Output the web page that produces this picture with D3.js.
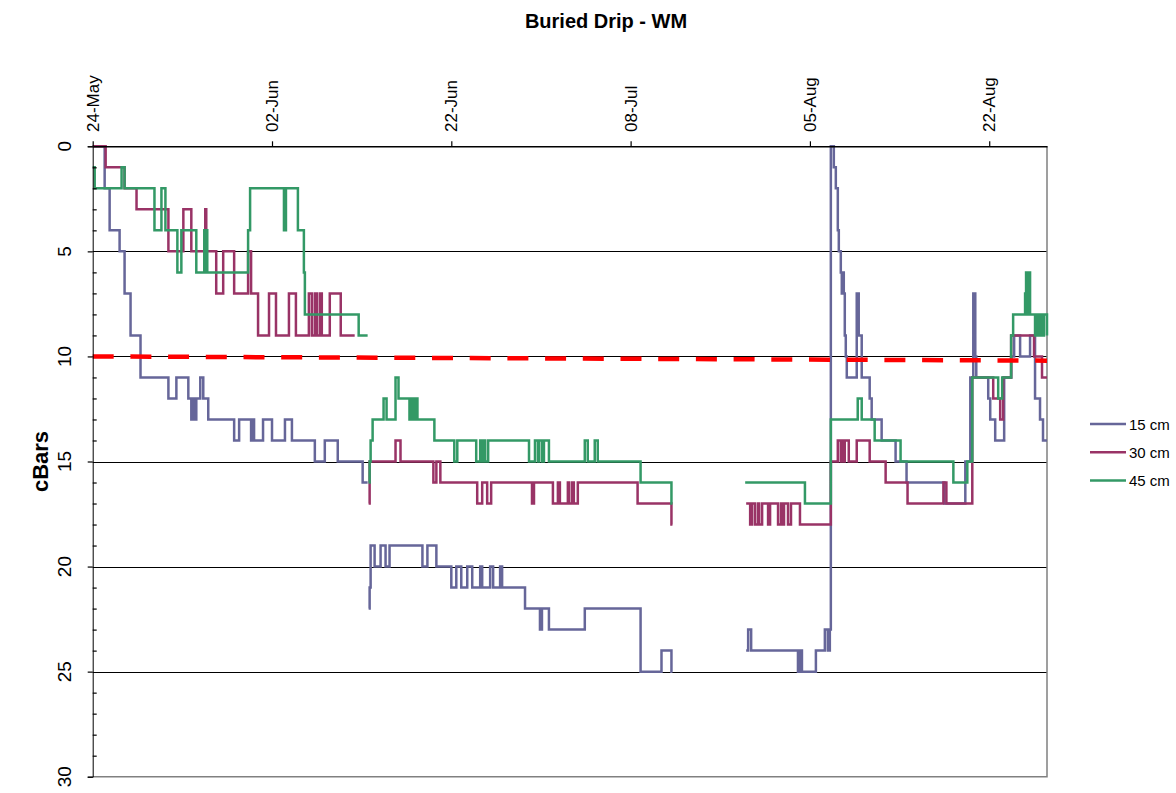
<!DOCTYPE html>
<html>
<head>
<meta charset="utf-8">
<script src="https://cdn.jsdelivr.net/npm/d3@7"></script>
<style>
  body { margin: 0; background: #fff; }
  svg { font-family: "Liberation Sans", Arial, sans-serif; }
</style>
</head>
<body>
<div id="chart"></div>
<script>
// readings index (category axis), a label every 180 readings
var tickIdx = [0, 180, 360, 540, 720, 900];
var tickLabels = ["24-May", "02-Jun", "22-Jun", "08-Jul", "05-Aug", "22-Aug"];
var yTicks = [0, 5, 10, 15, 20, 25, 30];

// [reading index, cBars] where the value changes; null = no data
var cm15 = [
  [0,0],[12,2],[17,4],[27,5],[32,7],[38,9],[48,11],[76,12],[84,11],[96,12],[99,13],[101,12],[103,13],[104,12],
  [108,11],[111,12],[116,13],[142,14],[147,13],[159,14],[161,13],[162,14],[171,13],[180,14],[193,13],[200,14],
  [223,15],[233,14],[246,15],[271,16],[276,16],[276.5,null],
  [277,22],[278,21],[279,19],[283,20],[289,19],[294,20],[298,19],[331,20],[336,19],[345,20],[360,21],[365,20],
  [370,21],[376,20],[381,21],[389,20],[391,21],[399,20],[402,21],[409,20],[411,21],[434,22],[449,23],[451,22],
  [458,23],[494,22],[550,25],[571,24],[581,25],[582,25],[600,null],
  [656,24],[658,23],[661,24],[708,25],[710,24],[712,25],[726,24],[735,23],[738,24],[740,23],[741,0],[744,1],
  [746,2],[748,4],[749,5],[751,6],[752,7],[753,6],[754,7],[755,9],[756,10],[757,11],[767,7],[769,9],[772,11],
  [780,12],[782,13],[792,14],[806,15],[817,16],[855,17],[876,15],[881,11],[884,7],[886,10],[887,11],[899,12],
  [901,13],[906,14],[915,11],[922,10],[925,9],[931,10],[941,9],[946,12],[951,13],[954,14],[958,14]
];
var cm30 = [
  [0,0],[13,1],[32,2],[44,3],[76,5],[91,3],[99,5],[113,3],[114,5],[124,7],[131,5],[142,7],[156,5],[159,7],
  [166,9],[177,7],[184,9],[197,7],[204,9],[217,7],[220,9],[223,7],[225,9],[228,7],[230,9],[238,7],[249,9],
  [263,9],[264,null],
  [277,17],[278,15],[304,14],[309,15],[342,16],[345,15],[349,16],[386,17],[391,16],[396,17],[400,16],[441,17],
  [443,16],[462,17],[467,16],[469,17],[477,16],[478,17],[481,16],[483,17],[487,16],[547,17],[581,18],[582,18],
  [600,null],
  [656,17],[660,18],[662,17],[665,18],[668,17],[669,18],[672,17],[678,18],[680,17],[688,18],[691,17],[692,18],
  [694,17],[698,18],[701,17],[710,18],[741,15],[748,14],[751,15],[752,14],[754,15],[755,14],[759,15],[767,14],
  [780,15],[796,16],[818,17],[854,16],[857,17],[883,11],[904,12],[911,13],[914,11],[922,9],[945,10],[953,11],
  [958,11]
];
var cm45 = [
  [0,1],[2,2],[29,1],[32,2],[62,4],[69,2],[73,4],[85,6],[89,4],[104,6],[112,4],[113,6],[114,4],[115,6],
  [156,4],[158,2],[192,4],[194,2],[206,4],[212,6],[213,8],[267,9],[276,9],[276.5,null],
  [277,16],[278,15],[279,14],[281,13],[292,12],[295,13],[304,11],[307,12],[318,13],[320,12],[322,13],[324,12],
  [326,13],[343,14],[363,15],[366,14],[385,15],[389,14],[390,15],[392,14],[394,15],[397,14],[438,15],[444,14],
  [447,15],[448,14],[451,15],[453,14],[458,15],[494,14],[497,15],[504,14],[507,15],[550,16],[581,17],[582,17],
  [600,null],
  [655,16],[715,17],[741,13],[768,12],[772,13],[785,14],[811,15],[864,16],[878,15],[883,11],[909,12],[913,11],
  [922,9],[924,8],[936,7],[937,6],[938,8],[939,6],[941,8],[946,9],[948,8],[950,9],[952,8],[954,9],[955,8],
  [958,9]
];
// threshold line
var threshold = [[0,10],[958,10.2]];

var series = [
  {name: "15 cm", data: cm15, color: "#666699"},
  {name: "30 cm", data: cm30, color: "#993366"},
  {name: "45 cm", data: cm45, color: "#339966"}
];

var width = 1176, height = 793;
var plot = {left: 92.7, right: 1047, top: 146.3, bottom: 776.7};

var svg = d3.select("#chart")
  .append("svg")
    .attr("width", width)
    .attr("height", height);

var x = d3.scaleLinear()
  .domain([0, 958])
  .range([plot.left, plot.right]);

var y = d3.scaleLinear()
  .domain([0, 30])
  .range([plot.top, plot.bottom]);

// title
svg.append("text")
  .attr("x", 606)
  .attr("y", 28)
  .attr("text-anchor", "middle")
  .style("font-size", "20px")
  .style("font-weight", "bold")
  .text("Buried Drip - WM");

// gridlines
svg.append("g")
  .selectAll("line")
  .data([5, 10, 15, 20, 25])
  .enter()
  .append("line")
    .attr("x1", plot.left)
    .attr("x2", plot.right)
    .attr("y1", d => Math.round(y(d)) + 0.5)
    .attr("y2", d => Math.round(y(d)) + 0.5)
    .attr("stroke", "#000")
    .attr("stroke-width", 1);

// plot border right / bottom
svg.append("path")
  .attr("d", "M" + plot.right + "," + plot.top + "V" + plot.bottom + "H" + plot.left)
  .attr("fill", "none")
  .attr("stroke", "#808080")
  .attr("stroke-width", 1.5);

// series
var line = d3.line()
  .defined(d => d[1] !== null)
  .x(d => x(d[0]))
  .y(d => y(d[1]))
  .curve(d3.curveStepAfter);

svg.append("g")
  .selectAll("path")
  .data(series)
  .enter()
  .append("path")
    .attr("d", d => line(d.data))
    .attr("fill", "none")
    .attr("stroke", d => d.color)
    .attr("stroke-width", 2.5);

// threshold dashed line
svg.append("path")
  .attr("d", d3.line().x(d => x(d[0])).y(d => y(d[1]))(threshold))
  .attr("fill", "none")
  .attr("stroke", "#ff0000")
  .attr("stroke-width", 4.5)
  .attr("stroke-dasharray", "21,16.7");

// Y axis: major ticks outside, minor ticks inside
svg.append("g")
  .attr("transform", "translate(" + plot.left + ",0)")
  .call(d3.axisLeft(y).tickValues(yTicks).tickSize(5).tickFormat(""))
  .call(g => g.selectAll("line").attr("stroke-width", 1.2));

svg.append("g")
  .attr("transform", "translate(" + plot.left + ",0)")
  .call(d3.axisRight(y).tickValues(d3.range(0, 31).filter(v => v % 5 !== 0)).tickSize(4).tickSizeOuter(0).tickFormat(""))
  .call(g => g.select(".domain").remove())
  .call(g => g.selectAll("line").attr("stroke-width", 1.2));

svg.append("g")
  .selectAll("text")
  .data(yTicks)
  .enter()
  .append("text")
    .attr("transform", d => "translate(71," + y(d) + ") rotate(-90)")
    .attr("text-anchor", "middle")
    .style("font-size", "19px")
    .text(d => d);

// X axis on top
svg.append("g")
  .attr("transform", "translate(0," + plot.top + ")")
  .call(d3.axisTop(x).tickValues(tickIdx).tickSize(5).tickSizeOuter(0).tickFormat(""))
  .call(g => g.select(".domain").attr("stroke-width", 1.5))
  .call(g => g.selectAll("line").attr("stroke-width", 1.2));

svg.append("g")
  .selectAll("text")
  .data(tickIdx)
  .enter()
  .append("text")
    .attr("transform", (d, i) => "translate(" + (x(d) + 6) + ",132) rotate(-90)")
    .attr("text-anchor", "start")
    .style("font-size", "17px")
    .text((d, i) => tickLabels[i]);

// y axis title
svg.append("text")
  .attr("transform", "translate(48," + ((plot.top + plot.bottom) / 2) + ") rotate(-90)")
  .attr("text-anchor", "middle")
  .style("font-size", "22px")
  .style("font-weight", "bold")
  .text("cBars");

// legend
var legend = svg.append("g")
  .selectAll("g")
  .data(series)
  .enter()
  .append("g")
    .attr("transform", (d, i) => "translate(1090," + (424 + i * 28.3) + ")");

legend.append("line")
  .attr("x1", 0)
  .attr("x2", 36)
  .attr("stroke", d => d.color)
  .attr("stroke-width", 2.5);

legend.append("text")
  .attr("x", 39)
  .attr("y", 5.5)
  .style("font-size", "15px")
  .text(d => d.name);
</script>
</body>
</html>
